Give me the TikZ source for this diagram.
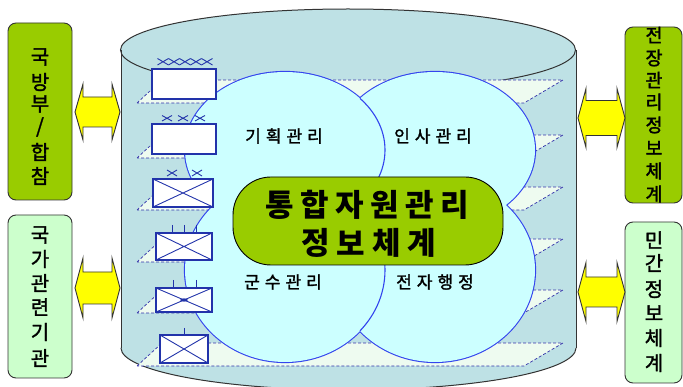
\documentclass[tikz,border=0pt]{standalone}
\usepackage{fontspec}
\newfontfamily\kr{Noto Sans CJK KR}
\newfontfamily\krm{Noto Sans CJK KR}[FakeBold=1.6]
\definecolor{cylfill}{HTML}{BEE1E5}
\definecolor{cylline}{HTML}{333333}
\definecolor{circfill}{HTML}{CCFFFF}
\definecolor{circline}{HTML}{3344EE}
\definecolor{planefill}{HTML}{EEFBF0}
\definecolor{planeline}{HTML}{3333AA}
\definecolor{boxblue}{HTML}{2233AA}
\definecolor{dgreen}{HTML}{99CC00}
\definecolor{lgreen}{HTML}{CCFFCC}
\definecolor{yel}{HTML}{FFFF00}
\begin{document}
\begin{tikzpicture}[x=1pt,y=-1pt,
  plane/.style={fill=planefill,draw=planeline,line width=0.7pt,dash pattern=on 3pt off 2pt},
  circout/.style={draw=circline,line width=2.2pt},
  circin/.style={fill=circfill},
  circsep/.style={draw=circline,line width=1.1pt},
  unitbox/.style={draw=boxblue,fill=white,line width=1.3pt},
  mk/.style={draw=boxblue,line width=0.9pt},
  sidebox/.style={draw=cylline,line width=0.9pt,rounded corners=8pt},
  sidech/.style={font=\krm\fontsize{20}{20}\selectfont,inner sep=0pt},
  sidechr/.style={font=\krm\fontsize{18.5}{18.5}\selectfont,inner sep=0pt},
  lab/.style={font=\krm\fontsize{17}{17}\selectfont,inner sep=0pt},
  cen/.style={font=\kr\bfseries\fontsize{31}{31}\selectfont,inner sep=0pt},
  arr/.style={fill=yel,draw=cylline,line width=0.9pt,line join=miter}]
\useasboundingbox (0,0) rectangle (683,387);

% cylinder
\fill[cylfill] (121,50) rectangle (576,348);
\fill[cylfill] (348,348) ellipse [x radius=227.5, y radius=42];
\fill[cylfill] (348,50) ellipse [x radius=227.5, y radius=41];
\draw[cylline,line width=1pt] (121,50) -- (121,348);
\draw[cylline,line width=1pt] (576,50) -- (576,348);
\draw[cylline,line width=1pt] (121,348) arc[start angle=180, end angle=0, x radius=227.5, y radius=42];
\draw[cylline,line width=1pt] (348,50) ellipse [x radius=227.5, y radius=41];

% planes
\foreach \t in {80,135,187,239,290,343}
  \draw[plane] (137,\t+23) -- (162,\t) -- (563,\t) -- (524,\t+23) -- cycle;

% circles (outer outline)
\draw[circout] (285,150) ellipse [x radius=100, y radius=78];
\draw[circout] (435,150) ellipse [x radius=100, y radius=78];
\draw[circout] (285,270) ellipse [x radius=100, y radius=92];
\draw[circout] (435,270) ellipse [x radius=100, y radius=92];
\fill[circin] (285,150) ellipse [x radius=100, y radius=78];
\fill[circin] (435,150) ellipse [x radius=100, y radius=78];
\fill[circin] (285,270) ellipse [x radius=100, y radius=92];
\fill[circin] (435,270) ellipse [x radius=100, y radius=92];
\begin{scope}
  \clip (435,150) ellipse [x radius=100, y radius=78];
  \draw[circsep] (285,150) ellipse [x radius=100, y radius=78];
\end{scope}
\begin{scope}
  \clip (435,270) ellipse [x radius=100, y radius=92];
  \draw[circsep] (285,270) ellipse [x radius=100, y radius=92];
\end{scope}

% unit boxes
\draw[unitbox] (152,69) rectangle (216,99);
\draw[unitbox] (152,124) rectangle (216,154);
\draw[unitbox] (153,179) rectangle (213,207);
\draw[mk] (153,179) -- (213,207) (153,207) -- (213,179);
\draw[unitbox] (156,233) rectangle (212,260);
\draw[mk] (156,233) -- (212,260) (156,260) -- (212,233);
\draw[unitbox] (156,288) rectangle (212,312);
\draw[mk] (156,288) -- (212,312) (156,312) -- (212,288);
\fill[boxblue] (184,300) ellipse [x radius=4, y radius=1.6];
\draw[unitbox] (160,335) rectangle (208,363);
\draw[mk] (160,335) -- (208,363) (160,363) -- (208,335);

% marks above boxes
\foreach \x in {163,174,185,196,207}
  \draw[mk] (\x-5.5,58.5) -- (\x+5.5,65) (\x-5.5,65) -- (\x+5.5,58.5);
\foreach \x in {167,183,200}
  \draw[mk] (\x-5,115.5) -- (\x+5,121) (\x-5,121) -- (\x+5,115.5);
\foreach \x in {172,197}
  \draw[mk] (\x-5,170) -- (\x+5,176) (\x-5,176) -- (\x+5,170);
\foreach \x in {172,184,196}
  \draw[mk] (\x,225) -- (\x,232);
\foreach \x in {173,196}
  \draw[mk] (\x,280) -- (\x,287);
\draw[mk] (184,328) -- (184,335);

% centre node
\node[draw=black,fill=dgreen,line width=0.9pt,rounded corners=38pt,
      minimum width=270pt,minimum height=88pt,inner sep=0pt] (core) at (368,221) {};
\foreach \c/\x [count=\i] in {통/279.5,합/314.5,자/349.5,원/384.5,관/419.5,리/454.5}
  \node[cen] (ca\i) at (\x,205) {\c};
\foreach \c/\x [count=\i] in {정/316,보/351,체/386.5,계/422}
  \node[cen] (cb\i) at (\x,243) {\c};

% circle labels
\node[lab] (l1) at (284,136) {기\hspace{5pt}획\hspace{5pt}관\hspace{5pt}리};
\node[lab] (l2) at (433,136) {인\hspace{5pt}사\hspace{5pt}관\hspace{5pt}리};
\node[lab] (l3) at (283,282) {군\hspace{5pt}수\hspace{5pt}관\hspace{5pt}리};
\node[lab] (l4) at (435,282) {전\hspace{5pt}자\hspace{5pt}행\hspace{5pt}정};

% side boxes
\draw[sidebox,fill=dgreen] (8,23) rectangle (72,200);
\draw[sidebox,fill=lgreen] (8,215) rectangle (72,378);
\draw[sidebox,fill=dgreen] (625,27) rectangle (682,203);
\draw[sidebox,fill=lgreen] (625,222) rectangle (682,383);
\foreach \c/\y [count=\i] in {국/57,방/82,부/104,합/152,참/176}
  \node[sidech] (lt\i) at (40,\y) {\c};
\node[sidech] (ltslash) at (40,127) {/};
\foreach \c/\y [count=\i] in {국/235,가/259,관/283,련/307,기/332,관/358}
  \node[sidech] (lb\i) at (40,\y) {\c};
\foreach \c/\y [count=\i] in {전/35,장/58,관/80,리/102,정/125,보/148,체/171,계/194}
  \node[sidechr] (rt\i) at (654,\y) {\c};
\foreach \c/\y [count=\i] in {민/240,간/263,정/289,보/313,체/338,계/363}
  \node[sidech] (rb\i) at (654,\y) {\c};

% double block arrows
\newcommand\dblarr[6]{% xl xr yc H h L
  \draw[arr] (#1,#3) -- (#1+#6,#3-#4) -- (#1+#6,#3-#5) -- (#2-#6,#3-#5) -- (#2-#6,#3-#4)
    -- (#2,#3) -- (#2-#6,#3+#4) -- (#2-#6,#3+#5) -- (#1+#6,#3+#5) -- (#1+#6,#3+#4) -- cycle;}
\dblarr{75}{120}{112}{28}{15}{8}
\dblarr{75}{120}{288}{30}{16}{8}
\dblarr{578}{625}{118}{29.5}{17.5}{8}
\dblarr{578}{625}{292}{29.5}{15}{8}
\end{tikzpicture}
\end{document}
